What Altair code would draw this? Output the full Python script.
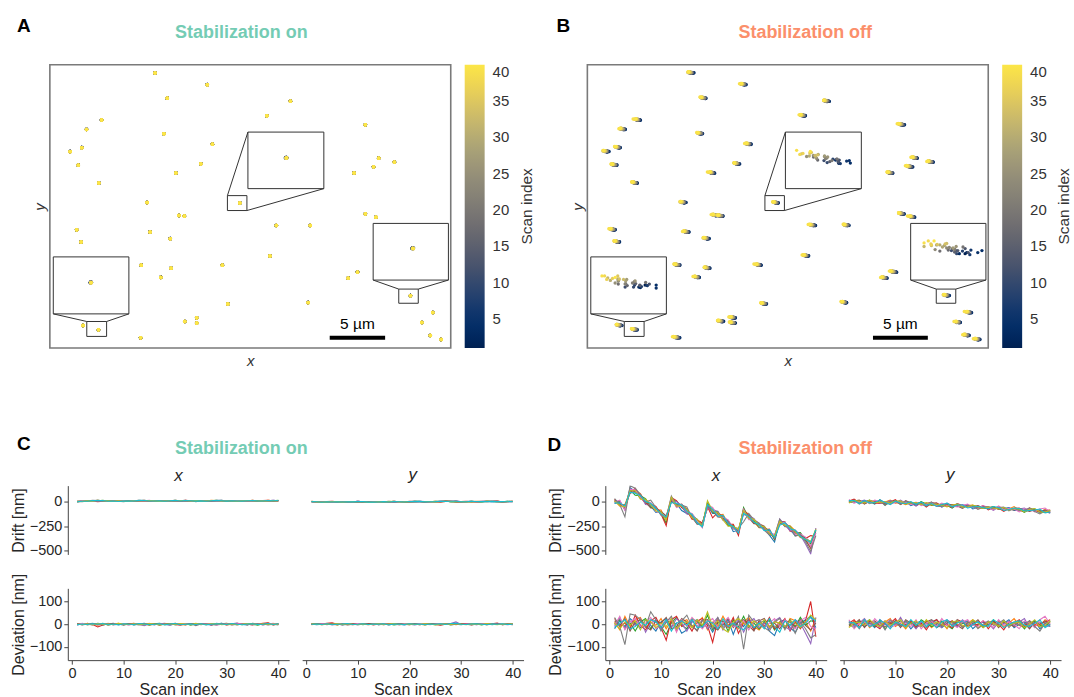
import altair as alt
import pandas as pd

alt.data_transformers.disable_max_rows()

FONT = "Liberation Sans"
SCANS = list(range(1, 41))

# ---------------- molecule positions (µm, y measured from top) ----------------
MOL_X = [9.48, 14.20, 10.59, 21.70, 4.66, 19.57, 3.30, 28.46, 10.28, 2.87,
         1.82, 14.66, 2.56, 13.61, 11.36, 29.66, 31.08, 29.20, 27.44, 4.41,
         8.77, 11.64, 12.13, 28.46, 29.41, 2.41, 9.04, 20.43, 23.49, 2.81,
         10.86, 19.85, 8.24, 10.93, 15.56, 10.00, 26.91, 27.75, 16.05, 23.30,
         12.16, 13.24, 13.24, 2.99, 34.54, 33.55, 34.32, 8.18, 4.38, 17.13,
         32.53, 35.30]
MOL_Y = [0.77, 1.85, 3.12, 3.40, 5.15, 4.75, 6.02, 5.59, 6.42, 7.72,
         8.09, 7.41, 9.35, 9.23, 10.09, 8.70, 9.07, 9.51, 10.09, 11.02,
         12.84, 14.04, 14.10, 13.89, 14.20, 15.37, 15.59, 14.97, 14.97, 16.51,
         16.20, 17.81, 18.67, 18.95, 18.67, 19.81, 19.88, 19.32, 22.28, 22.16,
         23.92, 23.58, 24.07, 24.29, 23.09, 24.01, 25.22, 25.43, 24.69, 12.87,
         21.51, 25.60]
X_MAX = 36.17
Y_MAX = 26.39

# inset boxes: center, lower-left, right
BIG_X1 = [17.87, 0.31, 29.17]
BIG_X2 = [24.72, 7.13, 35.96]
BIG_Y1 = [6.27, 17.90, 14.78]
BIG_Y2 = [11.54, 23.21, 20.06]
SMALL_X1 = [16.02, 3.33, 31.48]
SMALL_X2 = [17.78, 5.12, 33.24]
SMALL_Y1 = [12.19, 23.92, 20.90]
SMALL_Y2 = [13.58, 25.31, 22.22]
LINK_X1 = [16.02, 17.78, 0.31, 7.13, 29.17, 35.96]
LINK_Y1 = [12.19, 13.58, 23.21, 23.21, 20.06, 20.06]
LINK_X2 = [17.87, 24.72, 3.33, 5.12, 31.48, 33.24]
LINK_Y2 = [6.27, 11.54, 23.92, 23.92, 20.90, 20.90]
INSET_MOL = [49, 48, 50]
INSET_CX = [21.33, 3.70, 32.75]
INSET_CY = [8.67, 20.28, 17.10]
ZOOM = 9.5

BAR_A = [25.25, 30.25, 25.43]
BAR_A_TEXT = [27.75, 24.6]
BAR_B = [25.77, 30.72, 25.43]
BAR_B_TEXT = [28.24, 24.6]

# ---------------- drift traces (nm) ----------------
MEAN_DX_OFF = [0, -20, -65, 115, 95, 50, 5, -40, -80, -110,
               -175, 20, -25, -50, -95, -150, -200, -245, -45, -85,
               -130, -165, -215, -260, -305, -95, -160, -195, -240, -275,
               -310, -360, -205, -230, -270, -310, -345, -390, -445, -300]
MEAN_DY_OFF = [0, 5, -5, -10, -5, -10, 0, -15, -10, -5,
               -15, -10, -20, -25, -20, -30, -25, -35, -40, -35,
               -45, -40, -50, -45, -55, -60, -55, -65, -70, -65,
               -75, -80, -75, -85, -90, -80, -90, -95, -100, -105]
MEAN_DX_ON = [0, 3, 5, 8, 10, 8, 6, 5, 4, 3,
              5, 7, 9, 10, 8, 6, 5, 6, 7, 9,
              8, 10, 8, 6, 5, 7, 9, 10, 8, 6,
              5, 6, 7, 8, 9, 7, 6, 8, 10, 9]
MEAN_DY_ON = [0, -3, -5, -4, -2, -3, -5, -4, -2, 0,
              -2, -4, -6, -4, -2, -1, 0, -2, -3, -1,
              0, 1, -1, -2, 0, 1, 2, 1, 0, -1,
              0, 1, -1, 0, 2, 1, 0, -1, 0, 1]

DEV_X_OFF = [
    [-20, 15, -10, 25, 5, -15, 20, -5, -30, 10,
     25, -10, 5, -40, -25, 10, 20, -15, 5, -35,
     10, -5, 20, -45, 15, -10, 25, -20, 5, 15,
     -30, -50, 10, 20, -15, -35, 5, 20, 35, -15],
    [10, -25, 35, -10, 20, 30, -15, 10, -5, 25,
     -20, 15, -30, 10, 20, -15, 5, 30, -25, 10,
     -10, 35, -5, 15, -20, 10, 30, -10, -25, 5,
     20, -15, 10, -20, 25, 15, -5, 10, -30, 25],
    [0, 20, -15, 5, -30, 10, 25, -20, 15, -10,
     -45, 5, 30, -5, -20, 25, 10, -10, 40, -25,
     5, 15, -30, 20, -10, 35, -15, 5, -20, 10,
     15, -25, 5, -15, 20, -10, 30, -5, 15, 10],
    [25, -10, 5, -20, 40, -5, -25, 15, 30, -15,
     -70, 20, 35, -10, 5, -30, 15, 25, -5, -80,
     20, 10, -15, 30, -40, 5, 20, -25, 15, -10,
     30, -20, -5, 25, -30, 10, -20, 15, 100, -55],
    [-10, 30, -20, 15, -5, 25, -35, 5, 20, -25,
     10, -15, 25, 5, -30, 15, -10, 20, -20, 5,
     30, -25, 15, -10, 20, -35, 10, 25, -15, 5,
     -20, 15, 30, -10, -25, 20, 5, -40, -85, 30],
    [15, -5, 25, -30, 10, 20, -10, -25, 15, 5,
     30, -20, -10, 25, 10, -5, -30, 15, 20, -10,
     -25, 5, 25, -15, 10, 20, -5, -30, 15, 25,
     -10, 5, -20, 15, 10, -15, 20, -5, -25, 5],
    [-5, 35, -25, 10, 25, -10, 5, 30, -20, -5,
     15, 25, -35, 20, -10, 30, 5, -20, 10, 25,
     -15, 5, 30, -10, -5, 15, -25, 10, 20, -15,
     5, 25, -10, 20, -5, -20, 15, 30, -10, -20],
    [30, -10, -90, 45, 40, 20, -10, 55, 20, -30,
     10, 35, -20, 15, 40, -10, -25, 20, 5, -20,
     30, -15, 10, -5, 35, -110, 40, 10, 20, -15,
     -30, 10, 25, -25, 15, -40, 10, -20, -60, -45],
    [5, -20, 10, -5, 15, -25, 20, 10, -15, 5,
     -10, 25, -20, 5, 10, -15, 20, -5, 55, -10,
     15, -20, -35, 10, 25, 5, -10, 15, -5, 20,
     -15, 10, 5, -10, 15, 5, -15, 10, 40, 20],
    [-15, 5, 20, -20, -10, 10, -5, 20, 10, -15,
     20, -30, 5, 15, -5, 20, -15, -10, 15, 5,
     -20, 25, -10, 5, -15, -25, 10, -15, 5, -20,
     25, -10, -35, 15, -5, 20, -10, 5, 30, 15],
]
DEV_Y_OFF = [
    [10, -5, 15, -10, 5, -15, 20, 0, -10, 15,
     -5, 10, -20, 5, 15, -10, 0, 20, -15, 5,
     10, -10, 5, 15, -20, 0, 10, -5, 15, -10,
     5, 20, -15, 0, 10, -5, 15, -20, 5, -10],
    [-10, 15, 0, 20, -15, 5, -5, 10, 25, -10,
     5, -20, 10, 0, -5, 15, -15, 5, 10, -20,
     15, 0, -10, 5, 20, -15, -5, 10, 0, 15,
     -10, 5, 25, -5, -15, 10, 0, -10, 20, 5],
    [0, -15, 10, 5, 20, -10, 15, -20, 5, 0,
     15, -5, 10, -15, 20, 5, -10, 0, 15, -5,
     -20, 10, 5, -5, 15, 10, -15, 0, 20, -10,
     15, -5, 0, 10, -20, 5, 15, -5, -10, 15],
    [5, 20, -10, 0, 15, -5, -20, 10, 5, 25,
     -10, 0, 15, -15, 5, -25, 10, 20, -5, 0,
     -15, 20, 10, -10, 5, -5, 15, -20, 10, 0,
     -25, 10, 5, 20, -10, 15, -5, 0, 10, 20],
    [15, -10, 5, 25, -5, 10, -15, 0, 20, -5,
     30, -10, 5, -20, 10, 0, 15, -5, -15, 20,
     5, -10, 20, 0, -5, 15, -10, 5, -20, 10,
     0, 15, -5, 10, 25, -15, 5, 10, -5, -10],
    [-5, 0, 20, -15, 10, 15, -5, -10, 0, 15,
     -15, 20, 5, -5, -10, 10, 20, -15, 0, 5,
     15, -5, -20, 10, 0, 20, -10, 5, 15, -15,
     10, 0, -10, 15, 5, -20, 10, 0, 15, -5],
    [20, -20, 5, 10, -10, 25, 0, 15, -15, -5,
     10, 5, -10, 20, -20, 5, 15, -10, 25, -5,
     0, -15, 10, 20, -5, -10, 15, 5, -15, 20,
     -5, 10, 0, -20, 15, 5, -15, 20, 35, 0],
    [0, 10, -20, 15, 5, -5, 10, -25, 15, 5,
     -10, 15, 0, 10, -5, -15, 20, 5, -10, 15,
     -5, 20, -15, 5, 10, -20, 0, 15, -5, 5,
     20, -15, 10, -5, 0, 15, -10, -30, 5, 10],
    [-15, 5, 10, -5, 20, 0, -10, 15, -5, 10,
     20, -15, 5, 15, -10, 20, -5, 10, 0, -15,
     10, 15, -5, -10, 20, 5, -15, 10, 5, -10,
     15, -5, 5, 10, -15, 0, 20, -10, -5, 15],
    [10, 5, -15, 20, -10, 0, 15, 5, -20, 10,
     0, -10, 20, -5, 15, -10, 5, -15, 10, 20,
     -10, 5, 15, -20, 0, 10, -5, -10, 20, 5,
     -15, 0, 10, 15, -5, -10, 5, 20, -15, 0],
]
DEV_X_ON = [
    [-3, 2, 0, -2, 4, 1, -1, 3, -2, 0,
     2, -3, 1, 4, -1, -2, 3, 0, -4, 2,
     1, -2, 3, -1, 0, 2, -3, 1, 4, -2,
     0, 3, -1, -3, 2, 1, -2, 0, 3, -1],
    [2, -1, 3, 0, -4, 2, -3, 1, 4, -2,
     0, 3, -1, 2, -4, 1, 3, -2, 0, 4,
     -1, -3, 2, 0, 1, -2, 3, -1, 2, -3,
     0, 4, 1, -2, 3, -1, 0, 5, -2, 1],
    [0, 3, -2, 1, -1, 4, -3, 0, 2, -1,
     3, -2, 0, 1, -3, 2, 4, -1, 1, -2,
     0, 3, -4, 1, 2, -1, 0, -3, 2, 4,
     -1, 1, -2, 3, 0, -4, 2, 1, -1, 3],
    [1, -2, 4, -1, -12, -3, 2, 0, 3, -2,
     1, 4, -1, -3, 2, 0, -2, 3, 1, -1,
     -4, 2, 0, 3, -1, 2, -3, 1, 0, -2,
     3, -1, 2, 0, -3, 1, 4, 6, -2, 0],
    [-2, 0, 1, 3, -2, -1, 4, -3, 0, 2,
     -1, 3, 0, -6, 1, -2, 2, 4, -1, 0,
     3, -2, 1, -1, 2, 0, -3, 4, 1, -2,
     2, 5, -1, 0, -2, 3, 1, -3, 0, 2],
    [3, 1, -2, 0, 2, -3, 1, 4, -1, 0,
     -2, 1, 3, -1, 0, 2, -4, 1, 3, -2,
     0, -1, 2, 3, -2, 1, 0, -1, 3, 2,
     -3, 0, 1, -2, 4, 0, -1, 2, -3, 1],
    [-1, 4, 0, -3, 1, 2, -2, 0, 3, 1,
     -3, 0, 2, -1, 4, -2, 1, 0, -3, 2,
     1, 3, -2, 0, -1, 3, 1, -4, 0, 2,
     -2, 1, 3, -1, 0, 2, -3, 1, 4, -1],
    [2, -3, 1, 4, 0, -2, 3, -1, 1, -4,
     2, 0, -3, 1, 3, -1, 0, 2, -2, 4,
     -1, 0, 3, -6, 1, 2, -2, 0, 4, -1,
     1, -3, 2, 0, -1, 3, -2, 1, 0, -3],
    [0, -1, 2, -3, 3, 0, 1, -2, 4, 1,
     -1, 2, 0, -2, 3, 1, -3, 0, 2, -1,
     3, 1, -2, 4, 0, -1, 2, 3, -2, 0,
     1, -2, 0, 3, 1, -1, 2, -2, 1, 0],
    [-2, 1, -1, 2, 0, 3, -2, 1, -3, 2,
     0, -1, 3, 1, -2, 0, 2, -3, 1, 3,
     -2, 0, 1, -1, 2, -3, 0, 2, 1, -1,
     3, 0, -2, 1, 2, -1, 0, 3, -1, 2],
]
DEV_Y_ON = [
    [1, -2, 0, 3, -1, 2, -3, 0, 1, 2,
     -1, 0, 3, -2, 1, -1, 2, 0, -3, 1,
     2, -1, 0, 2, -2, 1, 3, -1, 0, -2,
     1, 2, -1, 0, 3, -2, 1, 0, 2, -1],
    [-2, 1, 3, -1, 0, -3, 2, 1, -2, 0,
     3, -1, 1, 0, -2, 2, -1, 3, 0, -2,
     1, 0, -3, 1, 2, -1, 0, 2, -2, 1,
     0, -1, 3, 1, -2, 0, 2, -1, 1, 0],
    [0, 2, -1, 1, 3, -2, 0, -1, 2, 1,
     -2, 3, 0, -1, 1, 2, -3, 0, 1, -1,
     2, 1, -2, 0, 3, -1, 1, -2, 0, 2,
     -1, 0, 1, -3, 2, 1, 0, -1, 2, -2],
    [2, -1, 1, 4, 6, 0, -2, 1, 3, -1,
     0, 2, -3, 1, 0, -2, 2, 1, -1, 3,
     0, -2, 1, 2, -1, -4, 0, 2, -1, 1,
     3, -2, 0, 1, -1, 2, 5, -2, 0, 1],
    [-1, 0, 2, -2, 1, 3, -1, 0, -2, 2,
     1, -1, 0, 3, -2, 1, 0, -1, 2, 0,
     -3, 1, 2, 0, -1, 1, 0, 3, 10, -1,
     0, 2, -2, 1, 0, -1, 3, 0, -2, 1],
    [1, 3, -2, 0, 2, -1, 1, -3, 0, 2,
     -1, 1, 2, -2, 0, 3, -1, 1, 0, -2,
     2, 0, -1, 3, 1, -2, 0, 1, -1, 2,
     0, -3, 1, 2, -1, 0, 2, -2, 1, 0],
    [0, -1, 1, 2, -3, 0, 2, 1, -1, 3,
     0, -2, 1, -1, 2, 0, 1, -3, 2, 1,
     -1, 2, 0, -2, 1, 3, -1, 0, 2, -1,
     1, 0, -2, 3, 0, 1, -1, 2, 0, -2],
    [-1, 2, 0, -1, 1, -2, 3, 0, 1, -3,
     2, 0, -1, 2, 1, -2, 0, 3, -1, 0,
     1, -2, 2, 0, -1, 1, 2, -3, 0, 1,
     -1, 2, 0, 1, -2, 3, 0, -1, 1, 2],
    [2, 0, -2, 1, 0, 3, -1, 2, 0, -1,
     1, -2, 0, 2, -1, 1, 3, -2, 0, 1,
     -1, 0, 2, 1, -3, 0, 1, -1, 2, 0,
     -2, 1, 0, -1, 3, 0, -2, 1, 0, 2],
    [0, 1, -1, 2, -2, 0, 1, 3, -1, 0,
     2, -1, 1, 0, 2, -3, 1, 0, -1, 2,
     0, 1, -2, 1, 0, 2, -1, 3, 4, 0,
     -1, 1, 2, 0, -2, 1, 0, 2, -1, 0],
]

TAB10 = ["#1f77b4", "#ff7f0e", "#2ca02c", "#d62728", "#9467bd",
         "#8c564b", "#e377c2", "#7f7f7f", "#bcbd22", "#17becf"]
COLOR_ON = "#74ccb4"
COLOR_OFF = "#fb8f6b"
TEXT = "#262626"


# ---------------- helpers ----------------
def trace(mean, devs, k):
    return [mean[i] + devs[k][i] for i in range(len(SCANS))]


def positions(mx, my, dx, dy):
    rows = []
    for m, (bx, by) in enumerate(zip(MOL_X, MOL_Y)):
        tx = trace(mx, dx, m % 10)
        ty = trace(my, dy, m % 10)
        for i, s in enumerate(SCANS):
            rows.append({"mol": m, "scan": s,
                         "x": bx + tx[i] / 1000.0, "y": by + ty[i] / 1000.0})
    return pd.DataFrame(rows).sort_values(["scan", "mol"], kind="stable")


def inset_positions(mx, my, dx, dy):
    rows = []
    for m, cx, cy in zip(INSET_MOL, INSET_CX, INSET_CY):
        tx = trace(mx, dx, m % 10)
        ty = trace(my, dy, m % 10)
        ax = sum(tx) / len(tx)
        ay = sum(ty) / len(ty)
        for i, s in enumerate(SCANS):
            rows.append({"mol": m, "scan": s,
                         "x": cx + (tx[i] - ax) / 1000.0 * ZOOM,
                         "y": cy + (ty[i] - ay) / 1000.0 * ZOOM})
    return pd.DataFrame(rows).sort_values(["scan", "mol"], kind="stable")


def text_layer(txt, x, y, size, color=TEXT, weight="normal", style="normal",
               align="left", baseline="alphabetic", angle=0):
    return alt.Chart(pd.DataFrame({"t": [txt]})).mark_text(
        align=align, baseline=baseline, fontSize=size, fontWeight=weight,
        fontStyle=style, color=color, angle=angle, font=FONT
    ).encode(x=alt.value(x), y=alt.value(y), text="t:N")


XSCALE = alt.Scale(domain=[0, X_MAX], nice=False, zero=False)
YSCALE = alt.Scale(domain=[0, Y_MAX], nice=False, zero=False, reverse=True)
XAXIS = alt.Axis(title="x", labels=False, ticks=False, domain=False, grid=False,
                 titleFontStyle="italic", titleFontWeight="normal", titleFontSize=15,
                 titlePadding=6, titleColor="#333333")
YAXIS = alt.Axis(title="y", labels=False, ticks=False, domain=False, grid=False,
                 titleFontStyle="italic", titleFontWeight="normal", titleFontSize=15,
                 titlePadding=2, titleColor="#333333")


def X(f):
    return alt.X(f"{f}:Q", scale=XSCALE, axis=XAXIS)


def Y(f):
    return alt.Y(f"{f}:Q", scale=YSCALE, axis=YAXIS)


def scatter_panel(pos, ins, letter, letter_x, title, tcolor, title_x, bar, bar_text):
    color = alt.Color(
        "scan:Q",
        scale=alt.Scale(scheme="cividis", domain=[1, 40]),
        legend=alt.Legend(title=None, orient="right", offset=14, padding=0,
                          direction="vertical", gradientLength=284,
                          gradientThickness=20, gradientStrokeWidth=0,
                          values=[5, 10, 15, 20, 25, 30, 35, 40],
                          labelFontSize=15, labelColor="#333333", labelOffset=8,
                          labelBaseline="middle", labelFont=FONT))
    pts = alt.Chart(pos).mark_circle(size=12, opacity=1).encode(
        x=X("x"), y=Y("y"), color=color)
    boxes = pd.DataFrame({"x1": BIG_X1, "x2": BIG_X2, "y1": BIG_Y1, "y2": BIG_Y2})
    big = alt.Chart(boxes).mark_rect(fill="white", stroke="#333333", strokeWidth=1).encode(
        x=X("x1"), x2="x2:Q", y=Y("y1"), y2="y2:Q")
    sboxes = pd.DataFrame({"x1": SMALL_X1, "x2": SMALL_X2, "y1": SMALL_Y1, "y2": SMALL_Y2})
    small = alt.Chart(sboxes).mark_rect(fillOpacity=0, stroke="#333333", strokeWidth=1).encode(
        x=X("x1"), x2="x2:Q", y=Y("y1"), y2="y2:Q")
    links = pd.DataFrame({"x1": LINK_X1, "y1": LINK_Y1, "x2": LINK_X2, "y2": LINK_Y2})
    link = alt.Chart(links).mark_rule(color="#333333", strokeWidth=1).encode(
        x=X("x1"), y=Y("y1"), x2="x2:Q", y2="y2:Q")
    inset = alt.Chart(ins).mark_circle(size=11, opacity=1).encode(
        x=X("x"), y=Y("y"), color=color)
    bdf = pd.DataFrame({"x1": [bar[0]], "x2": [bar[1]], "y": [bar[2]]})
    sbar = alt.Chart(bdf).mark_rule(color="black", strokeWidth=4).encode(
        x=X("x1"), x2="x2:Q", y=Y("y"))
    tdf = pd.DataFrame({"x": [bar_text[0]], "y": [bar_text[1]], "t": ["5 µm"]})
    stext = alt.Chart(tdf).mark_text(fontSize=15.5, color="black", align="center",
                                     baseline="alphabetic", font=FONT).encode(
        x=X("x"), y=Y("y"), text="t:N")
    lay = alt.layer(
        pts, big, small, link, inset, sbar, stext,
        text_layer(letter, letter_x, -33, 19, color="black", weight="bold"),
        text_layer(title, title_x, -27, 18, color=tcolor, weight="bold", align="center"),
        text_layer("Scan index", 478, 142, 15.5, color="#333333", align="center",
                   baseline="middle", angle=270),
    ).properties(width=402, height=284,
                 view=alt.ViewBackground(stroke="#7a7a7a", strokeWidth=1.6))
    return lay


def series(mean, devs):
    rows = []
    for k in range(len(devs)):
        tr = trace(mean, devs, k)
        for i, s in enumerate(SCANS):
            rows.append({"mol": f"m{k}", "scan": s, "drift": tr[i], "dev": devs[k][i]})
    return pd.DataFrame(rows)


SCAN_SCALE = alt.Scale(domain=[-0.8, 42.1], nice=False, zero=False)
DRIFT_SCALE = alt.Scale(domain=[-536, 162], nice=False, zero=False)
DEV_SCALE = alt.Scale(domain=[-158, 158], nice=False, zero=False)
SCAN_AXIS = alt.Axis(title="Scan index", values=[0, 10, 20, 30, 40], titlePadding=2)
DRIFT_AXIS = alt.Axis(title="Drift [nm]", values=[-500, -250, 0], titlePadding=3)
DEV_AXIS = alt.Axis(title="Deviation [nm]", values=[-100, 0, 100], titlePadding=3)


def line_chart(df, field, yscale, xaxis, yaxis, height):
    x = alt.X("scan:Q", scale=SCAN_SCALE, axis=xaxis) if xaxis is not False else \
        alt.X("scan:Q", scale=SCAN_SCALE, axis=None)
    y = alt.Y(f"{field}:Q", scale=yscale, axis=yaxis) if yaxis is not False else \
        alt.Y(f"{field}:Q", scale=yscale, axis=None)
    return alt.Chart(df).mark_line(strokeWidth=1.1, clip=True).encode(
        x=x, y=y,
        color=alt.Color("mol:N", scale=alt.Scale(range=TAB10), legend=None),
    ).properties(width=222, height=height)


def spacer(w):
    return alt.Chart(pd.DataFrame({"a": [0]})).mark_point(opacity=0).properties(
        width=w, height=1)


# ---------------- build panels ----------------
pos_on = positions(MEAN_DX_ON, MEAN_DY_ON, DEV_X_ON, DEV_Y_ON)
ins_on = inset_positions(MEAN_DX_ON, MEAN_DY_ON, DEV_X_ON, DEV_Y_ON)
pos_off = positions(MEAN_DX_OFF, MEAN_DY_OFF, DEV_X_OFF, DEV_Y_OFF)
ins_off = inset_positions(MEAN_DX_OFF, MEAN_DY_OFF, DEV_X_OFF, DEV_Y_OFF)

panel_a = scatter_panel(pos_on, ins_on, "A", -33, "Stabilization on", COLOR_ON, 192,
                        BAR_A, BAR_A_TEXT)
panel_b = scatter_panel(pos_off, ins_off, "B", -31, "Stabilization off", COLOR_OFF, 218.5,
                        BAR_B, BAR_B_TEXT)

sx_on = series(MEAN_DX_ON, DEV_X_ON)
sy_on = series(MEAN_DY_ON, DEV_Y_ON)
sx_off = series(MEAN_DX_OFF, DEV_X_OFF)
sy_off = series(MEAN_DY_OFF, DEV_Y_OFF)

H_TOP = 69
H_BOT = 72

c_tl = alt.layer(
    line_chart(sx_on, "drift", DRIFT_SCALE, False, DRIFT_AXIS, H_TOP),
    text_layer("C", -51, -36, 19, color="black", weight="bold"),
    text_layer("Stabilization on", 174, -32, 18, color=COLOR_ON, weight="bold", align="center"),
    text_layer("x", 111, -5, 17, style="italic", align="center"),
)
c_tr = alt.layer(
    line_chart(sy_on, "drift", DRIFT_SCALE, False, False, H_TOP),
    text_layer("y", 111, -6, 17, style="italic", align="center"),
)
d_tl = alt.layer(
    line_chart(sx_off, "drift", DRIFT_SCALE, False, DRIFT_AXIS, H_TOP),
    text_layer("D", -58, -35, 19, color="black", weight="bold"),
    text_layer("Stabilization off", 200.5, -32, 18, color=COLOR_OFF, weight="bold", align="center"),
    text_layer("x", 111, -5, 17, style="italic", align="center"),
)
d_tr = alt.layer(
    line_chart(sy_off, "drift", DRIFT_SCALE, False, False, H_TOP),
    text_layer("y", 111, -6, 17, style="italic", align="center"),
)
c_bl = line_chart(sx_on, "dev", DEV_SCALE, SCAN_AXIS, DEV_AXIS, H_BOT)
c_br = line_chart(sy_on, "dev", DEV_SCALE, SCAN_AXIS, False, H_BOT)
d_bl = line_chart(sx_off, "dev", DEV_SCALE, SCAN_AXIS, DEV_AXIS, H_BOT)
d_br = line_chart(sy_off, "dev", DEV_SCALE, SCAN_AXIS, False, H_BOT)

grid = alt.concat(
    spacer(18), c_tl, spacer(13), c_tr, spacer(82), d_tl, spacer(13), d_tr,
    spacer(18), c_bl, spacer(13), c_br, spacer(82), d_bl, spacer(13), d_br,
    columns=8, spacing={"row": 34, "column": 0}, bounds="flush", align="none",
)

row1 = alt.hconcat(panel_a, panel_b, spacing=137, bounds="flush").resolve_scale(
    color="independent")

chart = alt.vconcat(row1, grid, spacing=64).resolve_scale(color="independent").properties(
    padding={"left": 9, "top": 15, "right": 0, "bottom": 0}
).configure(font=FONT).configure_view(stroke="transparent").configure_axis(
    labelFontSize=14.5, titleFontSize=16, titleFontWeight="normal",
    labelColor=TEXT, titleColor=TEXT, domainColor="#444444", tickColor="#444444",
    tickSize=4, labelPadding=2, grid=False, labelFont=FONT, titleFont=FONT,
)

chart.save("out.html", embed_options={"renderer": "svg", "actions": False})
